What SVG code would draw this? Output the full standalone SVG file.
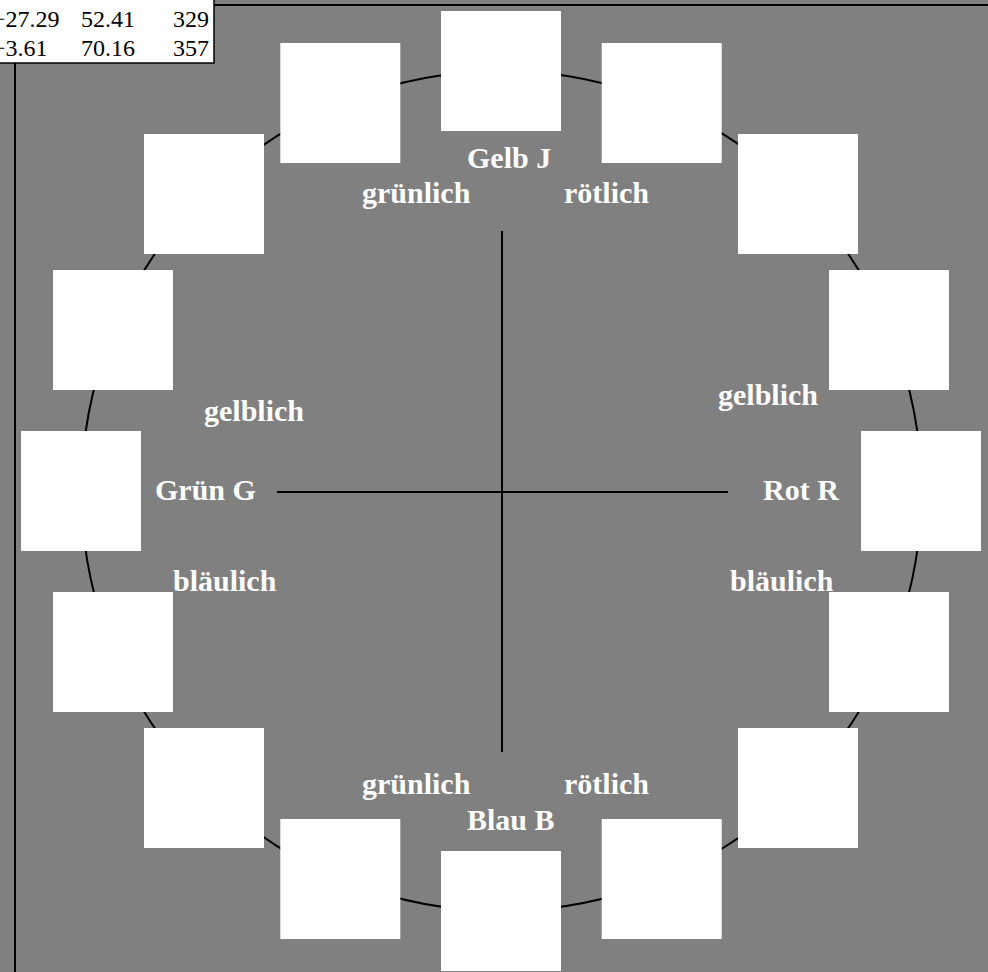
<svg xmlns="http://www.w3.org/2000/svg" width="988" height="972" viewBox="0 0 988 972">
<style>
.sq{fill:#ffffff;stroke:none}
.ln{stroke:#000;stroke-width:2;fill:none}
.lb{font-family:"Liberation Serif","Times New Roman",serif;font-weight:bold;font-size:30px;fill:#ffffff}
.tb{font-family:"Liberation Serif","Times New Roman",serif;font-size:24px;fill:#000}
</style>
<rect x="0" y="0" width="988" height="972" fill="#808080"/>
<g id="frame">
<line class="ln" x1="214" y1="5" x2="988" y2="5"/>
<line class="ln" x1="15" y1="63" x2="15" y2="972"/>
</g>
<g id="table">
<rect x="-2" y="-2" width="216" height="65" fill="#ffffff" stroke="#000" stroke-width="1.5"/>
<text class="tb" x="-8" y="27">−27.29</text>
<text class="tb" x="81" y="27">52.41</text>
<text class="tb" x="209" y="27" text-anchor="end">329</text>
<text class="tb" x="-8" y="56">−3.61</text>
<text class="tb" x="81" y="56">70.16</text>
<text class="tb" x="209" y="56" text-anchor="end">357</text>
</g>
<g id="circle">
<circle class="ln" cx="501.5" cy="491" r="420"/>
</g>
<g id="squares">
<rect id="s0" class="sq" x="441" y="11" width="120" height="120"/>
<rect id="s1" class="sq" x="601.7" y="43" width="120" height="120"/>
<rect id="s2" class="sq" x="738" y="134" width="120" height="120"/>
<rect id="s3" class="sq" x="829" y="270" width="120" height="120"/>
<rect id="s4" class="sq" x="861" y="431" width="120" height="120"/>
<rect id="s5" class="sq" x="829" y="592" width="120" height="120"/>
<rect id="s6" class="sq" x="738" y="728" width="120" height="120"/>
<rect id="s7" class="sq" x="601.7" y="819" width="120" height="120"/>
<rect id="s8" class="sq" x="441" y="851" width="120" height="120"/>
<rect id="s9" class="sq" x="280.3" y="819" width="120" height="120"/>
<rect id="s10" class="sq" x="144" y="728" width="120" height="120"/>
<rect id="s11" class="sq" x="53" y="592" width="120" height="120"/>
<rect id="s12" class="sq" x="21" y="431" width="120" height="120"/>
<rect id="s13" class="sq" x="53" y="270" width="120" height="120"/>
<rect id="s14" class="sq" x="144" y="134" width="120" height="120"/>
<rect id="s15" class="sq" x="280.3" y="43" width="120" height="120"/>
</g>
<g id="connectors">
<line class="ln" x1="277" y1="492" x2="728" y2="492"/>
<line class="ln" x1="502" y1="231" x2="502" y2="752"/>
</g>
<g id="labels">
<text class="lb" x="467" y="168">Gelb J</text>
<text class="lb" x="362" y="203">grünlich</text>
<text class="lb" x="564" y="203">rötlich</text>
<text class="lb" x="204" y="421">gelblich</text>
<text class="lb" x="718" y="405">gelblich</text>
<text class="lb" x="155" y="500">Grün G</text>
<text class="lb" x="763" y="500">Rot R</text>
<text class="lb" x="173" y="591">bläulich</text>
<text class="lb" x="730" y="591">bläulich</text>
<text class="lb" x="362" y="794">grünlich</text>
<text class="lb" x="564" y="794">rötlich</text>
<text class="lb" x="467" y="830">Blau B</text>
</g>
</svg>
